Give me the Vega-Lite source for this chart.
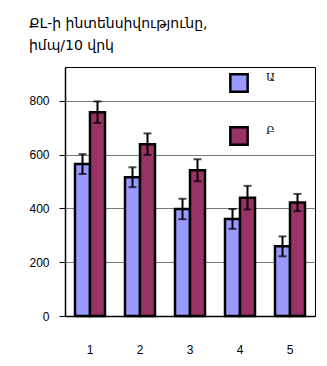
{
  "$schema": "https://vega.github.io/schema/vega-lite/v6.json",
  "width": 250,
  "height": 249,
  "autosize": "none",
  "padding": {"left": 65, "top": 67, "right": 12, "bottom": 50},
  "background": "white",
  "title": {
    "text": ["ՔL-ի ինտենսիվությունը,", "իմպ/10 վրկ"],
    "anchor": "start",
    "font": "DejaVu Sans",
    "fontSize": 14,
    "fontWeight": "normal",
    "lineHeight": 22,
    "offset": 14,
    "color": "black"
  },
  "config": {
    "font": "Liberation Sans",
    "view": {"stroke": "black", "strokeWidth": 1}
  },
  "data": {
    "values": [
      {"group": "1", "series": "Ա", "value": 565, "lo": 528, "hi": 602},
      {"group": "1", "series": "Բ", "value": 758, "lo": 718, "hi": 798},
      {"group": "2", "series": "Ա", "value": 516, "lo": 479, "hi": 553},
      {"group": "2", "series": "Բ", "value": 639, "lo": 599, "hi": 679},
      {"group": "3", "series": "Ա", "value": 398, "lo": 360, "hi": 436},
      {"group": "3", "series": "Բ", "value": 542, "lo": 501, "hi": 583},
      {"group": "4", "series": "Ա", "value": 361, "lo": 324, "hi": 398},
      {"group": "4", "series": "Բ", "value": 440, "lo": 396, "hi": 484},
      {"group": "5", "series": "Ա", "value": 259, "lo": 222, "hi": 296},
      {"group": "5", "series": "Բ", "value": 422, "lo": 390, "hi": 454}
    ]
  },
  "encoding": {
    "x": {
      "field": "group",
      "type": "nominal",
      "scale": {"paddingInner": 0.4, "paddingOuter": 0.2},
      "axis": {
        "title": null,
        "labelAngle": 0,
        "labelFontSize": 12,
        "labelColor": "black",
        "labelPadding": 28,
        "ticks": false,
        "domainColor": "black",
        "domainWidth": 1.5
      }
    },
    "xOffset": {"field": "series", "type": "nominal", "scale": {"paddingInner": 0, "paddingOuter": 0}}
  },
  "layer": [
    {
      "mark": {"type": "bar", "stroke": "black", "strokeWidth": 2.5},
      "encoding": {
        "y": {
          "field": "value",
          "type": "quantitative",
          "scale": {"domain": [0, 926], "nice": false},
          "axis": {
            "title": null,
            "values": [0, 200, 400, 600, 800],
            "labelFontSize": 12,
            "labelColor": "black",
            "labelPadding": 10,
            "tickColor": "black",
            "tickSize": 6,
            "domainColor": "black",
            "domainWidth": 1.5,
            "gridColor": "#777777",
            "gridWidth": 1.2,
            "gridOpacity": 1
          }
        },
        "fill": {
          "field": "series",
          "type": "nominal",
          "scale": {"domain": ["Ա", "Բ"], "range": ["#9999FF", "#993366"]},
          "legend": {
            "title": null,
            "orient": "none",
            "legendX": 164,
            "legendY": 6,
            "symbolType": "square",
            "symbolSize": 300,
            "symbolStrokeColor": "black",
            "symbolStrokeWidth": 2.5,
            "symbolOpacity": 1,
            "rowPadding": 25,
            "labelOffset": 17,
            "labelFont": "DejaVu Serif",
            "labelFontSize": 11,
            "labelColor": "black",
            "labelBaseline": "bottom"
          }
        }
      }
    },
    {
      "mark": {"type": "rule", "color": "black", "strokeWidth": 2},
      "encoding": {
        "y": {"field": "lo", "type": "quantitative"},
        "y2": {"field": "hi"}
      }
    },
    {
      "mark": {"type": "tick", "color": "black", "size": 8, "thickness": 2, "orient": "horizontal"},
      "encoding": {"y": {"field": "lo", "type": "quantitative"}}
    },
    {
      "mark": {"type": "tick", "color": "black", "size": 8, "thickness": 2, "orient": "horizontal"},
      "encoding": {"y": {"field": "hi", "type": "quantitative"}}
    }
  ]
}
